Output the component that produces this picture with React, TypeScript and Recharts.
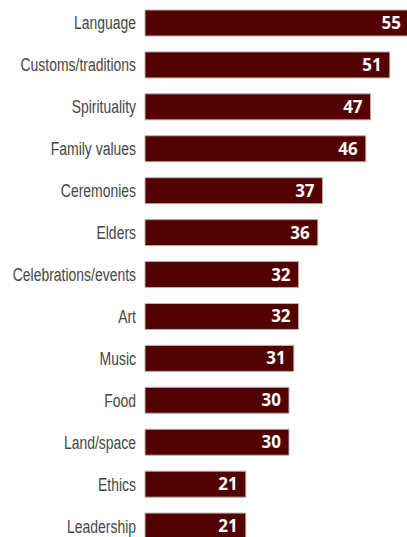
import { BarChart, Bar, XAxis, YAxis, LabelList } from "recharts";

const categories = [
  "Language",
  "Customs/traditions",
  "Spirituality",
  "Family values",
  "Ceremonies",
  "Elders",
  "Celebrations/events",
  "Art",
  "Music",
  "Food",
  "Land/space",
  "Ethics",
  "Leadership",
];

const values = [55, 51, 47, 46, 37, 36, 32, 32, 31, 30, 30, 21, 21];

const data = categories.map((name, i) => ({ name, value: values[i] }));

// narrow label: Liberation Sans squeezed horizontally to mimic a condensed face
function NarrowTick(props: any) {
  const { x, y, payload } = props;
  return (
    <g transform={`translate(${x},${y})`}>
      <text
        transform="scale(0.775,1)"
        textAnchor="end"
        dy="0.36em"
        fontSize={18}
        fill="#464646"
        fontFamily="'Liberation Sans', Arial, sans-serif"
      >
        {payload.value}
      </text>
    </g>
  );
}

export default function App() {
  return (
    <div
      style={{
        position: "absolute",
        left: 0,
        top: 0,
        width: 407,
        height: 537,
        overflow: "hidden",
        background: "#fff",
      }}
    >
      <BarChart
        width={409}
        height={547}
        data={data}
        layout="vertical"
        margin={{ top: 2, right: 0, bottom: 0, left: 0 }}
      >
        <XAxis type="number" domain={[0, 55]} hide />
        <YAxis
          type="category"
          dataKey="name"
          width={145}
          axisLine={false}
          tickLine={false}
          tickSize={0}
          tickMargin={9}
          tick={<NarrowTick />}
          interval={0}
        />
        <Bar
          dataKey="value"
          fill="#520000"
          stroke="#b9b2b2"
          strokeWidth={1}
          barSize={26}
          isAnimationActive={false}
        >
          <LabelList
            dataKey="value"
            position="insideRight"
            offset={8}
            fill="#ffffff"
            fontSize={17}
            fontWeight="bold"
            fontFamily="'Open Sans', sans-serif"
          />
        </Bar>
      </BarChart>
    </div>
  );
}
